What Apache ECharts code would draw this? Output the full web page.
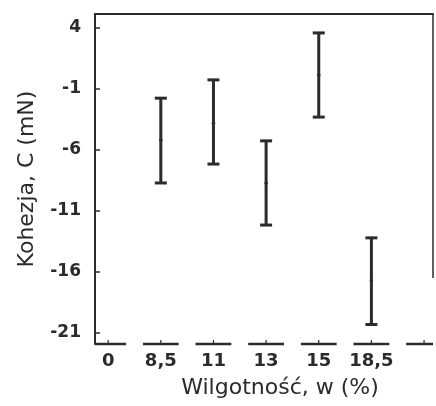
<!DOCTYPE html>
<html>
<head>
<meta charset="utf-8">
<script src="https://cdn.jsdelivr.net/npm/echarts@6/dist/echarts.min.js"></script>
<style>
  html, body { margin: 0; padding: 0; background: #fff; }
  #main { width: 436px; height: 406px; }
</style>
</head>
<body>
<div id="main"></div>
<script>
// wilgotnosc (kategorie na osi X), ostatnia pusta
var categories = ['0', '8,5', '11', '13', '15', '18,5', ''];
// przedzialy kohezji: dol, srodek, gora (null = brak danych)
var lowValues  = [null, -8.7, -7.15, -12.15, -3.3, -20.3];
var midValues  = [null, -5.2, -3.8, -8.7, 0.15, -16.7];
var highValues = [null, -1.75, -0.25, -5.25, 3.6, -13.2];
var yTicks = [-21, -16, -11, -6, -1, 4];

var ink = '#2b2b2b';
var font = 'DejaVu Sans';

var barData = [];
for (var i = 0; i < lowValues.length; i++) {
    if (lowValues[i] == null) continue;
    barData.push([i, lowValues[i], midValues[i], highValues[i]]);
}
var segData = categories.map(function (c, i) { return [i]; });

var yMin = -21.9, yMax = 5.15;
var xMin = -0.25, xMax = 6.17;

var myChart = echarts.init(document.getElementById('main'));
var option = {
    animation: false,
    grid: { left: 95, right: 3, top: 14, bottom: 62 },
    xAxis: [{
        type: 'value',
        min: xMin,
        max: xMax,
        axisLine: { show: false },
        axisTick: { show: false },
        splitLine: { show: false },
        axisLabel: {
            customValues: [0, 1, 2, 3, 4, 5],
            formatter: function (v) { return categories[Math.round(v)]; },
            color: ink, fontSize: 18, fontWeight: 'bold', fontFamily: font, margin: 8
        },
        name: 'Wilgotność, w (%)',
        nameLocation: 'middle',
        nameGap: 33,
        nameTextStyle: { color: ink, fontSize: 22, fontFamily: font, padding: [0, 0, 0, 32] }
    }, {
        type: 'value',
        position: 'top',
        min: xMin,
        max: xMax,
        axisLine: { show: true, lineStyle: { color: ink, width: 2 } },
        axisTick: { show: false },
        axisLabel: { show: false },
        splitLine: { show: false }
    }],
    yAxis: {
        type: 'value',
        min: yMin,
        max: yMax,
        axisLine: { show: true, onZero: false, lineStyle: { color: ink, width: 2 } },
        axisTick: {
            show: true, inside: true, length: 5,
            customValues: yTicks,
            lineStyle: { color: ink, width: 1.5 }
        },
        axisLabel: {
            customValues: yTicks,
            color: ink, fontSize: 17, fontWeight: 'bold', fontFamily: font, margin: 14
        },
        splitLine: { show: false },
        name: 'Kohezja, C (mN)',
        nameLocation: 'middle',
        nameGap: 57,
        nameTextStyle: { color: ink, fontSize: 22, fontFamily: font }
    },
    series: [{
        // przerywana os X z malymi kreskami
        type: 'custom',
        clip: false,
        data: segData,
        renderItem: function (params, api) {
            var p = api.coord([api.value(0), yMin]);
            var left = api.coord([xMin, yMin])[0];
            var right = api.coord([xMax, yMin])[0];
            var w = api.size([1, 0])[0] * 0.68;
            var x1 = Math.max(p[0] - w / 2, left);
            var x2 = Math.min(p[0] + w / 2, right);
            return {
                type: 'group',
                children: [{
                    type: 'line',
                    shape: { x1: x1, y1: p[1], x2: x2, y2: p[1] },
                    style: { stroke: ink, lineWidth: 2.5 }
                }, {
                    type: 'line',
                    shape: { x1: p[0], y1: p[1], x2: p[0], y2: p[1] - 4 },
                    style: { stroke: ink, lineWidth: 1.2 }
                }]
            };
        },
        markLine: {
            symbol: 'none',
            silent: true,
            label: { show: false },
            lineStyle: { color: ink, width: 1.5, type: 'solid' },
            data: [[{ coord: [xMax, yMax] }, { coord: [xMax, -16.5] }]]
        }
    }, {
        // slupki bledow
        type: 'custom',
        data: barData,
        renderItem: function (params, api) {
            var x = api.value(0);
            var lo = api.coord([x, api.value(1)]);
            var mid = api.coord([x, api.value(2)]);
            var hi = api.coord([x, api.value(3)]);
            var cap = 6;
            var st = { stroke: ink, lineWidth: 3 };
            return {
                type: 'group',
                children: [
                    { type: 'line', shape: { x1: lo[0], y1: lo[1], x2: hi[0], y2: hi[1] }, style: st },
                    { type: 'line', shape: { x1: hi[0] - cap, y1: hi[1], x2: hi[0] + cap, y2: hi[1] }, style: st },
                    { type: 'line', shape: { x1: lo[0] - cap, y1: lo[1], x2: lo[0] + cap, y2: lo[1] }, style: st },
                    { type: 'circle', shape: { cx: mid[0], cy: mid[1], r: 1.8 }, style: { fill: ink } }
                ]
            };
        }
    }]
};
myChart.setOption(option);
</script>
</body>
</html>
